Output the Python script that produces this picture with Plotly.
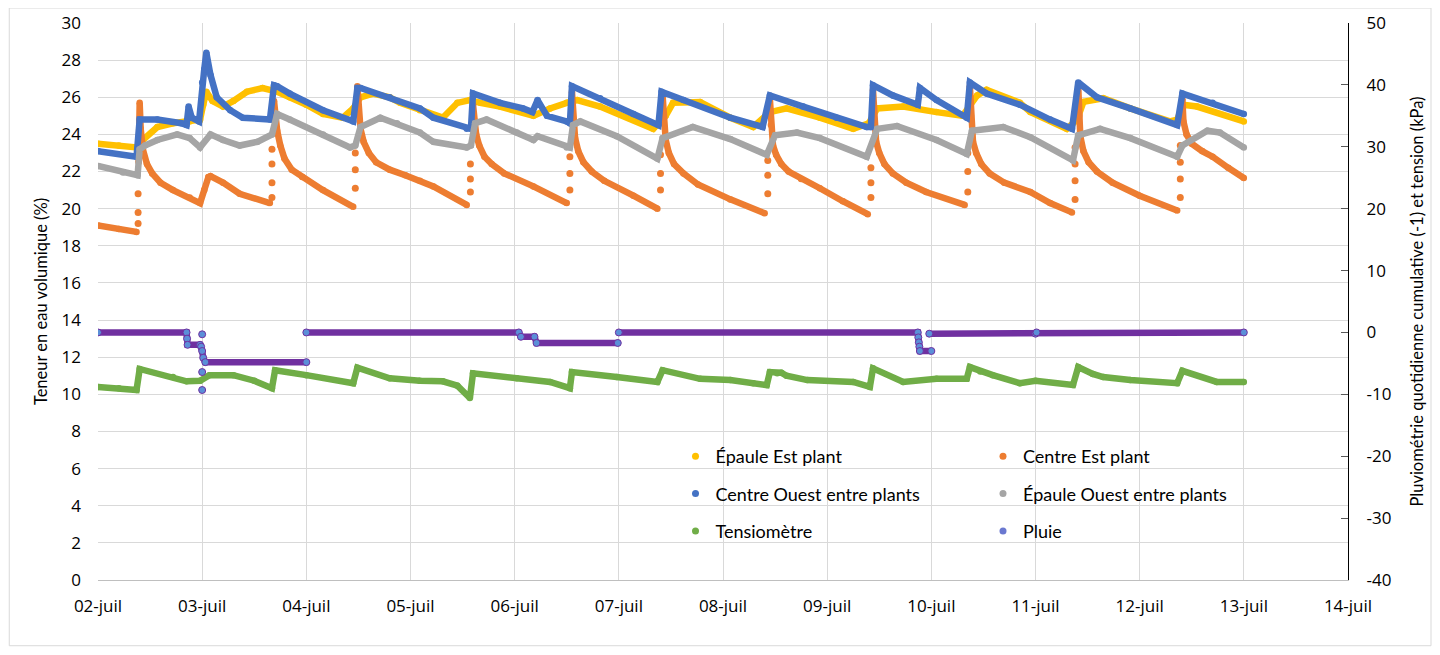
import plotly.graph_objects as go

# ---------------- data ----------------
tick_labels = ["02-juil", "03-juil", "04-juil", "05-juil", "06-juil", "07-juil", "08-juil",
               "09-juil", "10-juil", "11-juil", "12-juil", "13-juil", "14-juil"]
right_tick_vals = [-40, -30, -20, -10, 0, 10, 20, 30, 40, 50]
right_tick_text = ["-40", "-30", "-20", "-10", "0", "10", "20", "30", "40", "50"]

# time in days since 02-juil 00:00, volumetric water content (%)
epaule_est = [(0.00, 23.5), (0.20, 23.4), (0.37, 23.3), (0.43, 23.7), (0.57, 24.4), (0.72, 24.6),
              (0.88, 24.7), (0.98, 24.8), (1.01, 25.6), (1.04, 26.3), (1.10, 25.8), (1.20, 25.5),
              (1.30, 25.8), (1.43, 26.3), (1.58, 26.5), (1.67, 26.4), (1.72, 26.3), (1.84, 26.0),
              (2.00, 25.6), (2.16, 25.1), (2.35, 24.9), (2.45, 25.4), (2.52, 26.0), (2.64, 26.2),
              (2.80, 26.0), (2.90, 25.7), (3.09, 25.3), (3.22, 25.0), (3.31, 24.9), (3.45, 25.7),
              (3.57, 25.85), (3.67, 25.7), (3.86, 25.5), (4.18, 25.0), (4.34, 25.4), (4.50, 25.7),
              (4.60, 25.85), (4.82, 25.5), (5.14, 24.8), (5.33, 24.3), (5.45, 25.0), (5.52, 25.7),
              (5.78, 25.75), (6.07, 24.9), (6.29, 24.4), (6.38, 24.8), (6.45, 25.2), (6.61, 25.4),
              (6.93, 24.9), (7.25, 24.3), (7.40, 24.6), (7.48, 25.4), (7.73, 25.5), (8.05, 25.2),
              (8.30, 25.0), (8.44, 26.1), (8.53, 26.4), (8.85, 25.7), (8.95, 25.2), (9.30, 24.3),
              (9.40, 24.8), (9.46, 25.75), (9.65, 25.95), (9.91, 25.4), (10.29, 24.7), (10.36, 24.8),
              (10.42, 25.6), (10.55, 25.5), (11.00, 24.7)]

centre_est = [(0.00, 19.1), (0.20, 18.9), (0.37, 18.75), None,
              (0.39, 22.5), (0.40, 25.7), (0.41, 24.3), (0.43, 23.2), (0.47, 22.4), (0.52, 21.9),
              (0.60, 21.4), (0.72, 21.0), (0.88, 20.6), (0.98, 20.3), (1.02, 21.0), (1.06, 21.7),
              (1.08, 21.75), (1.20, 21.4), (1.36, 20.8), (1.65, 20.3), None,
              (1.69, 25.8), (1.70, 25.0), (1.72, 24.2), (1.75, 23.4), (1.79, 22.7), (1.86, 22.1),
              (1.96, 21.7), (2.16, 21.0), (2.45, 20.1), None,
              (2.49, 26.6), (2.50, 25.4), (2.52, 24.3), (2.55, 23.6), (2.60, 23.0), (2.67, 22.5),
              (2.80, 22.1), (2.95, 21.8), (3.09, 21.5), (3.22, 21.2), (3.54, 20.2), None,
              (3.60, 25.6), (3.61, 24.8), (3.63, 24.0), (3.66, 23.4), (3.71, 22.8), (3.78, 22.4),
              (3.90, 21.9), (4.18, 21.2), (4.50, 20.3), None,
              (4.55, 26.3), (4.56, 24.8), (4.58, 23.8), (4.61, 23.1), (4.66, 22.5), (4.74, 22.0),
              (4.86, 21.5), (5.14, 20.7), (5.37, 20.0), None,
              (5.42, 26.1), (5.43, 24.6), (5.45, 23.7), (5.48, 23.0), (5.53, 22.4), (5.62, 21.9),
              (5.76, 21.3), (6.07, 20.5), (6.40, 19.75), None,
              (6.45, 25.9), (6.46, 24.5), (6.48, 23.4), (6.51, 22.9), (6.56, 22.4), (6.63, 22.0),
              (6.75, 21.6), (6.93, 21.1), (7.15, 20.4), (7.39, 19.7), None,
              (7.44, 26.4), (7.45, 24.8), (7.47, 23.6), (7.50, 23.0), (7.55, 22.4), (7.63, 21.9),
              (7.76, 21.4), (7.95, 20.9), (8.32, 20.2), None,
              (8.37, 26.6), (8.38, 25.0), (8.40, 23.6), (8.43, 23.0), (8.48, 22.4), (8.56, 21.9),
              (8.70, 21.4), (8.95, 20.9), (9.14, 20.3), (9.35, 19.8), None,
              (9.41, 26.6), (9.42, 25.0), (9.43, 23.9), (9.46, 23.1), (9.51, 22.5), (9.59, 22.0),
              (9.74, 21.4), (10.00, 20.7), (10.36, 19.9), None,
              (10.41, 25.9), (10.42, 24.7), (10.45, 24.0), (10.50, 23.5), (10.60, 23.1),
              (10.70, 22.8), (10.85, 22.2), (11.00, 21.65)]

# isolated readings recorded during the fast rises of "Centre Est plant"
centre_est_jump = [(0.385, 19.2), (0.385, 19.8), (0.385, 20.8),
                   (1.67, 20.6), (1.67, 21.4), (1.67, 22.4), (1.67, 23.2),
                   (2.47, 21.1), (2.47, 22.1), (2.47, 23.0),
                   (3.575, 20.9), (3.575, 21.6), (3.575, 22.4),
                   (4.53, 21.0), (4.53, 21.9), (4.53, 22.8),
                   (5.40, 21.0), (5.40, 21.9), (5.40, 22.9),
                   (6.43, 20.8), (6.43, 21.8), (6.43, 22.6),
                   (7.42, 20.6), (7.42, 21.4), (7.42, 22.2),
                   (8.35, 20.9), (8.35, 22.0), (8.35, 23.0),
                   (9.38, 20.5), (9.38, 21.5), (9.38, 22.4), (9.38, 23.3),
                   (10.39, 20.6), (10.39, 21.6), (10.39, 22.5), (10.39, 23.4)]

centre_ouest = [(0.00, 23.1), (0.37, 22.8), (0.40, 24.8), (0.57, 24.8), (0.80, 24.6), (0.85, 24.5),
                (0.87, 25.5), (0.90, 24.9), (0.97, 24.7), (1.00, 26.8), (1.02, 27.5), (1.04, 28.4),
                (1.06, 27.6), (1.08, 27.2), (1.14, 26.0), (1.27, 25.3), (1.39, 24.9), (1.65, 24.8),
                (1.69, 26.65), (1.72, 26.6), (1.84, 26.2), (2.16, 25.3), (2.45, 24.7), (2.49, 26.5),
                (2.52, 26.5), (2.80, 26.0), (3.09, 25.4), (3.22, 24.9), (3.54, 24.3), (3.58, 24.3),
                (3.60, 26.2), (3.86, 25.7), (4.08, 25.4), (4.17, 25.2), (4.22, 25.85), (4.31, 25.0),
                (4.50, 24.7), (4.53, 24.6), (4.55, 26.6), (4.82, 25.95), (5.14, 25.1), (5.38, 24.5),
                (5.41, 26.3), (5.62, 25.85), (6.07, 24.9), (6.38, 24.4), (6.45, 26.1), (6.77, 25.5),
                (7.09, 24.9), (7.38, 24.4), (7.42, 24.4), (7.44, 26.65), (7.63, 26.1), (7.87, 25.6),
                (7.89, 26.5), (8.05, 25.85), (8.34, 24.9), (8.37, 26.8), (8.53, 26.2), (8.85, 25.6),
                (9.14, 24.8), (9.35, 24.3), (9.41, 26.8), (9.59, 26.0), (9.91, 25.4), (10.36, 24.5),
                (10.41, 26.2), (10.70, 25.7), (11.00, 25.1)]

epaule_ouest = [(0.00, 22.3), (0.24, 21.95), (0.38, 21.8), (0.40, 23.2), (0.45, 23.4), (0.57, 23.7),
                (0.76, 24.0), (0.88, 23.8), (0.98, 23.3), (1.08, 24.0), (1.20, 23.7), (1.36, 23.4),
                (1.53, 23.6), (1.67, 24.0), (1.72, 25.1), (1.84, 24.8), (2.16, 24.0), (2.42, 23.3),
                (2.47, 23.4), (2.52, 24.4), (2.71, 24.9), (2.87, 24.6), (3.09, 24.1), (3.22, 23.6),
                (3.54, 23.3), (3.58, 23.4), (3.62, 24.6), (3.73, 24.8), (4.02, 24.1), (4.18, 23.7),
                (4.22, 23.9), (4.50, 23.3), (4.53, 23.3), (4.56, 24.5), (4.63, 24.7), (4.98, 23.9),
                (5.37, 22.7), (5.42, 23.8), (5.71, 24.4), (6.07, 23.75), (6.42, 22.9), (6.50, 23.95),
                (6.71, 24.1), (6.93, 23.8), (7.38, 22.8), (7.48, 24.3), (7.67, 24.45), (8.05, 23.7),
                (8.34, 22.95), (8.39, 24.2), (8.69, 24.4), (8.95, 23.85), (9.36, 22.6), (9.41, 23.95),
                (9.62, 24.3), (9.91, 23.8), (10.36, 22.8), (10.41, 23.4), (10.65, 24.2), (10.77, 24.1),
                (11.00, 23.3)]

# right axis (kPa)
tensiometre = [(0.00, -8.8), (0.20, -9.0), (0.37, -9.3), (0.40, -5.9), (0.72, -7.2), (0.85, -7.9),
               (0.98, -7.8), (1.07, -6.9), (1.30, -6.9), (1.50, -7.8), (1.67, -9.0), (1.70, -6.1),
               (2.00, -6.9), (2.45, -8.2), (2.49, -5.7), (2.80, -7.4), (3.09, -7.8), (3.31, -7.9),
               (3.45, -8.6), (3.57, -10.6), (3.60, -6.6), (4.02, -7.4), (4.34, -8.0), (4.53, -9.0),
               (4.55, -6.4), (4.98, -7.2), (5.37, -8.0), (5.42, -6.1), (5.78, -7.5), (6.07, -7.7),
               (6.29, -8.2), (6.42, -8.5), (6.45, -6.4), (6.52, -6.6), (6.56, -6.5), (6.61, -7.0),
               (6.81, -7.7), (7.25, -8.0), (7.41, -8.8), (7.44, -5.8), (7.73, -8.0), (8.05, -7.5),
               (8.34, -7.5), (8.37, -5.6), (8.47, -6.3), (8.59, -6.9), (8.85, -8.2), (9.00, -7.8),
               (9.36, -8.5), (9.41, -5.6), (9.55, -6.7), (9.65, -7.2), (9.91, -7.7), (10.36, -8.2),
               (10.41, -6.2), (10.74, -8.0), (11.00, -8.0)]

pluie = [(0.00, 0.0), (0.85, 0.0), (0.855, -1.0), (0.86, -2.0), (0.98, -2.0), (0.99, -2.3),
         (1.00, -3.0), (1.01, -4.1), (1.03, -4.8), (2.00, -4.8), None,
         (2.00, 0.0), (4.04, 0.0), (4.06, -0.7), (4.19, -0.7), (4.21, -1.7), (4.99, -1.7), None,
         (5.00, 0.0), (7.87, 0.0), (7.875, -0.8), (7.88, -1.6), (7.885, -2.3), (7.89, -3.0),
         (8.00, -3.0), None,
         (7.98, -0.2), (9.00, -0.2), (9.01, 0.0), (11.00, 0.0)]

pluie_isolee = [(1.00, -0.3), (1.00, -6.4), (1.00, -9.3)]

# ---------------- styling ----------------
C_YELLOW = "#FFC000"
C_ORANGE = "#ED7D31"
C_BLUE = "#4472C4"
C_GREY = "#A5A5A5"
C_GREEN = "#70AD47"
C_PURPLE = "#7030A0"
C_PLUIE_DOT = "#5B8FD8"
LW = 6.5


def xs(pts):
    return [p[0] if p is not None else None for p in pts]


def ys(pts):
    return [p[1] if p is not None else None for p in pts]


fig = go.Figure()


def series(pts, color, yaxis="y"):
    fig.add_trace(go.Scatter(x=xs(pts), y=ys(pts), mode="lines+markers", yaxis=yaxis,
                             line=dict(color=color, width=LW),
                             marker=dict(color=color, size=LW),
                             connectgaps=False, showlegend=False, hoverinfo="skip"))


series(epaule_est, C_YELLOW)
series(centre_est, C_ORANGE)
fig.add_trace(go.Scatter(x=xs(centre_est_jump), y=ys(centre_est_jump), mode="markers",
                         marker=dict(color=C_ORANGE, size=7), showlegend=False, hoverinfo="skip"))
series(centre_ouest, C_BLUE)
series(epaule_ouest, C_GREY)
series(tensiometre, C_GREEN, "y2")
fig.add_trace(go.Scatter(x=xs(pluie), y=ys(pluie), mode="lines+markers", yaxis="y2",
                         line=dict(color=C_PURPLE, width=LW),
                         marker=dict(color=C_PLUIE_DOT, size=7, line=dict(color=C_PURPLE, width=1)),
                         connectgaps=False, showlegend=False, hoverinfo="skip"))
fig.add_trace(go.Scatter(x=xs(pluie_isolee), y=ys(pluie_isolee), mode="markers", yaxis="y2",
                         marker=dict(color=C_PLUIE_DOT, size=7, line=dict(color=C_PURPLE, width=1)),
                         showlegend=False, hoverinfo="skip"))

# legend entries (two columns)
legend_items = [
    ("Épaule Est plant", C_YELLOW, "legend"),
    ("Centre Ouest entre plants", C_BLUE, "legend"),
    ("Tensiomètre", C_GREEN, "legend"),
    ("Centre Est plant", C_ORANGE, "legend2"),
    ("Épaule Ouest entre plants", C_GREY, "legend2"),
    ("Pluie", "#6A78D0", "legend2"),
]
for i, (name, col, lg) in enumerate(legend_items):
    fig.add_trace(go.Scatter(x=[None], y=[None], mode="markers", name=name,
                             marker=dict(color=col, size=7), legend=lg,
                             legendgroup=f"g{i}", showlegend=True))

TICKFONT = dict(family="Open Sans", size=17, color="#000000")
TITLEFONT = dict(family="Lato", size=16.5, color="#000000")
LEGFONT = dict(family="Lato", size=18, color="#000000")

# the page body adds an 8 px margin, so the figure is sized to fit inside it
fig.update_layout(
    width=1424, height=639,
    margin=dict(l=90, r=84, t=15, b=67),
    paper_bgcolor="white", plot_bgcolor="white",
    xaxis=dict(range=[0, 12], tickmode="array", tickvals=list(range(len(tick_labels))),
               ticktext=tick_labels, showgrid=True, gridcolor="#d9d9d9", gridwidth=1,
               zeroline=False, showline=True, linecolor="#bfbfbf", linewidth=1,
               ticks="", tickfont=TICKFONT, ticklabelstandoff=11, automargin=False),
    yaxis=dict(range=[0, 30], dtick=2, tick0=0, showgrid=True, gridcolor="#d9d9d9",
               gridwidth=1, zeroline=False, showline=False, ticks="",
               tickfont=TICKFONT, ticklabelstandoff=16, automargin=False,
               title=dict(text="Teneur en eau volumique (%)", font=TITLEFONT, standoff=9)),
    yaxis2=dict(range=[-40, 50], tickmode="array", tickvals=right_tick_vals,
                ticktext=right_tick_text, overlaying="y", side="right",
                showgrid=False, zeroline=False, showline=True, linecolor="#000000",
                linewidth=1.3, ticks="inside", ticklen=7, tickcolor="#595959",
                tickfont=TICKFONT, ticklabelstandoff=14, automargin=False,
                title=dict(text="Pluviométrie quotidienne cumulative (-1) et tension (kPa)",
                           font=TITLEFONT, standoff=20)),
    legend=dict(x=0.462, y=0.255, xanchor="left", yanchor="top", bgcolor="rgba(0,0,0,0)",
                font=LEGFONT, tracegroupgap=11, traceorder="grouped"),
    legend2=dict(x=0.708, y=0.255, xanchor="left", yanchor="top", bgcolor="rgba(0,0,0,0)",
                 font=LEGFONT, tracegroupgap=11, traceorder="grouped"),
    shapes=[
        dict(type="rect", xref="paper", yref="paper", x0=0.459, x1=0.955, y0=0.05, y1=0.255,
             fillcolor="white", line=dict(width=0), layer="between"),
        dict(type="rect", xref="paper", yref="paper", x0=-0.071, x1=1.0664, y0=-0.118, y1=1.0269,
             fillcolor="rgba(0,0,0,0)", line=dict(color="#d9d9d9", width=1), layer="below"),
    ],
)

fig.write_html("out.html")
